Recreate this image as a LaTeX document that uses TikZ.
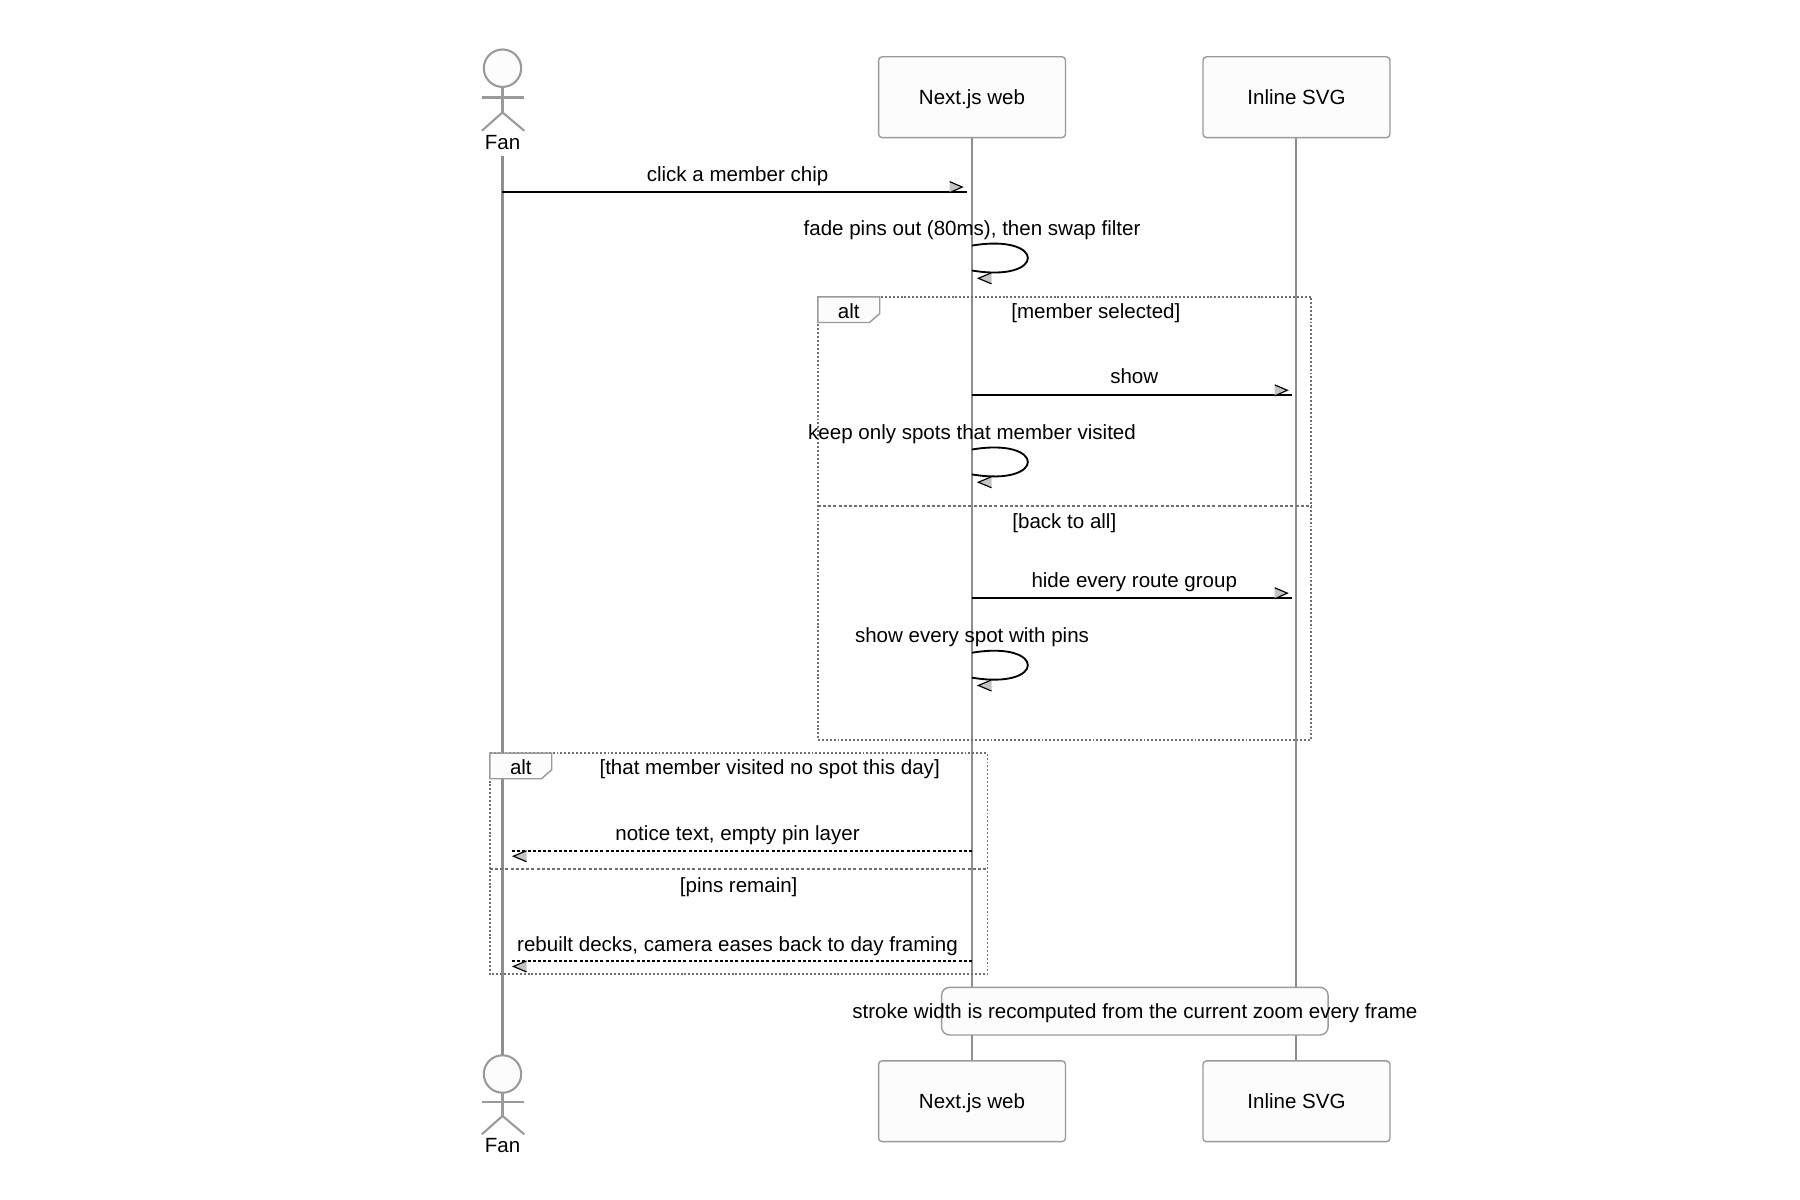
\documentclass[tikz,border=0pt]{standalone}
\usepackage{fontspec}
\setmainfont{Liberation Sans}
\definecolor{lifeg}{HTML}{8E8E8E}
\definecolor{boxg}{HTML}{9A9A9A}
\definecolor{frameg}{HTML}{707070}
\definecolor{boxfill}{HTML}{FCFCFC}
\definecolor{headg}{HTML}{C4C4C4}
\newcommand{\myrarrow}[2]{%
  \fill[headg] (#1,#2) ++(0,-4) -- ++(-11,-4.7) -- ++(0,9.6) -- cycle;
  \draw[black, line width=1pt] (#1,#2) ++(-11,-8.7) -- ++(11,4.7) -- ++(-11,4.9);}
\newcommand{\mylarrow}[2]{%
  \fill[headg] (#1,#2) ++(0,4.5) -- ++(11.5,4.8) -- ++(0,-9.6) -- cycle;
  \draw[black, line width=1pt] (#1,#2) ++(11.5,9.3) -- ++(-11.5,-4.8) -- ++(11.5,-4.8);}
\begin{document}
\begin{tikzpicture}[x=1pt,y=-1pt,
  font=\fontsize{17.8}{21}\selectfont,
  actorbox/.style={draw=boxg, line width=1.2pt, fill=boxfill, rounded corners=3pt,
    minimum width=162pt, minimum height=70pt, inner sep=0pt},
  lifeline/.style={draw=lifeg, line width=1.8pt},
  msgline/.style={draw=black, line width=1.6pt},
  retline/.style={msgline, dash pattern=on 2.6pt off 1.9pt},
  framebox/.style={draw=frameg, line width=1.6pt, dash pattern=on 1.7pt off 1.7pt},
  sepline/.style={draw=frameg, line width=1.6pt, dash pattern=on 2.6pt off 1.9pt},
  tagbox/.style={draw=boxg, line width=1.2pt, fill=boxfill},
  lbl/.style={anchor=base, inner sep=0pt, text=black},
  stick/.style={draw=boxg, line width=1.8pt},
  notebox/.style={draw=boxg, line width=1.2pt, fill=boxfill, rounded corners=7pt,
    minimum width=335pt, minimum height=41.3pt, inner sep=0pt}
]
\fill[white] (0,0) rectangle (1560,1040);
\useasboundingbox (0,0) rectangle (1560,1040);
\begin{scope}[shift={(1.25,-0.1)}, xscale=0.9937, yscale=0.9951]

% ---------- lifelines ----------
\coordinate (fanTop) at (437,136);
\coordinate (fanBot) at (437,919);
\coordinate (nextTopS) at (846.5,120);
\coordinate (nextBotN) at (846.5,924);
\coordinate (svgTopS) at (1129.5,120);
\coordinate (svgBotN) at (1129.5,924);
\draw[lifeline] (fanTop) -- (fanBot);
\draw[lifeline] (nextTopS) -- (nextBotN);
\draw[lifeline] (svgTopS) -- (svgBotN);

% ---------- actors (top) ----------
\node[actorbox] (nextTop) at (846.5,84.75) {};
\node[actorbox] (svgTop) at (1129.5,84.75) {};
\node[lbl] (nextTopL) at (846.5,91) {Next.js web};
\node[lbl] (svgTopL) at (1129.5,91) {Inline SVG};
% ---------- actors (bottom) ----------
\node[actorbox] (nextBot) at (846.5,959.25) {};
\node[actorbox] (svgBot) at (1129.5,959.25) {};
\node[lbl] (nextBotL) at (846.5,965.5) {Next.js web};
\node[lbl] (svgBotL) at (1129.5,965.5) {Inline SVG};

% ---------- Fan stick figures ----------
\draw[stick, fill=boxfill] (437,59.5) circle (16.3);
\draw[stick] (437,75.8) -- (437,98);
\draw[stick] (419,85) -- (456,85);
\draw[stick] (419,114) -- (437,98) -- (456,114);
\node[lbl] (fanTopL) at (437,130) {Fan};

\draw[stick, fill=boxfill] (437,935.5) circle (16.3);
\draw[stick] (437,951.8) -- (437,972);
\draw[stick] (419,960) -- (456,960);
\draw[stick] (419,988) -- (437,972) -- (456,988);
\node[lbl] (fanBotL) at (437,1004) {Fan};

% ---------- message 1 ----------
\coordinate (m1s) at (437,167);
\coordinate (m1e) at (842.5,167);
\draw[msgline] (m1s) -- (m1e);
\myrarrow{838}{167}
\node[lbl] at (642,158.5) {click a member chip};

% ---------- loop 1 ----------
\node[lbl] at (846.5,205.3) {fade pins out (80ms), then swap filter};
\coordinate (l1s) at (846.5,214);
\coordinate (l1e) at (846.5,235.7);
\draw[msgline] (l1s) .. controls +(65,-10.9) and +(65,10.9) .. (l1e);
\mylarrow{852}{238}

% ---------- alt 1 ----------
\draw[framebox] (712,258.7) rectangle (1142.5,644.7);
\draw[tagbox] (712,258.7) -- (766,258.7) -- (766,273.2) -- (757,281) -- (712,281) -- cycle;
\node[lbl] at (739,277.5) {alt};
\node[lbl] at (954.5,277.5) {[member selected]};

\coordinate (m2s) at (846.5,344);
\coordinate (m2e) at (1126,344);
\draw[msgline] (m2s) -- (m2e);
\myrarrow{1121.5}{344}
\node[lbl] at (988,334.5) {show};

\node[lbl] at (846.5,383) {keep only spots that member visited};
\coordinate (l2s) at (846.5,391.6);
\coordinate (l2e) at (846.5,413.3);
\draw[msgline] (l2s) .. controls +(65,-10.9) and +(65,10.9) .. (l2e);
\mylarrow{852}{415.6}

\draw[sepline] (712,440.7) -- (1142.5,440.7);
\node[lbl] at (927,460.5) {[back to all]};

\coordinate (m3s) at (846.5,520.7);
\coordinate (m3e) at (1126,520.7);
\draw[msgline] (m3s) -- (m3e);
\myrarrow{1121.5}{520.7}
\node[lbl] at (988,512) {hide every route group};

\node[lbl] at (846.5,560) {show every spot with pins};
\coordinate (l3s) at (846.5,568.6);
\coordinate (l3e) at (846.5,590.3);
\draw[msgline] (l3s) .. controls +(65,-10.9) and +(65,10.9) .. (l3e);
\mylarrow{852}{592.6}

% ---------- alt 2 ----------
\draw[framebox] (426,656) rectangle (860,848.7);
\draw[tagbox] (426,656) -- (480,656) -- (480,670.5) -- (471,678.3) -- (426,678.3) -- cycle;
\node[lbl] at (453,675) {alt};
\node[lbl] at (670,675) {[that member visited no spot this day]};

\node[lbl] at (642,732.5) {notice text, empty pin layer};
\coordinate (r1s) at (846.5,741.3);
\coordinate (r1e) at (445,741.3);
\draw[retline] (r1s) -- (r1e);
\mylarrow{446.5}{741.3}

\draw[sepline] (426,757.3) -- (860,757.3);
\node[lbl] at (643,777.5) {[pins remain]};

\node[lbl] at (642,828.5) {rebuilt decks, camera eases back to day framing};
\coordinate (r2s) at (846.5,837.3);
\coordinate (r2e) at (445,837.3);
\draw[retline] (r2s) -- (r2e);
\mylarrow{446.5}{837.3}

% ---------- note ----------
\node[notebox] (note) at (988.5,880.75) {};
\node[lbl] at (988.5,887) {stroke width is recomputed from the current zoom every frame};
\end{scope}
\end{tikzpicture}
\end{document}
